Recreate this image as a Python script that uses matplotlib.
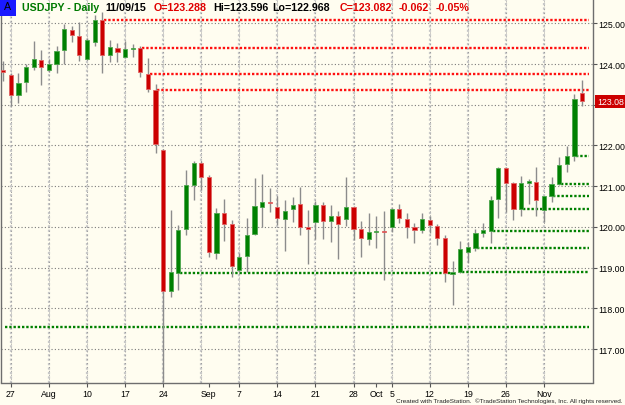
import matplotlib
matplotlib.use('Agg')
import matplotlib.pyplot as plt
import pandas as pd

# USDJPY daily bars, 24 Jul 2015 - 9 Nov 2015
days = pd.bdate_range('2015-07-24', '2015-11-09')
opens = [123.86, 123.74, 123.23, 123.55, 123.92, 124.10, 123.86, 124.00, 124.35, 124.84,
         124.68, 124.13, 124.55, 125.08, 124.21, 124.39, 124.18, 124.36, 124.40, 123.76,
         123.37, 121.89, 118.42, 118.86, 119.94, 121.02, 121.58, 121.23, 119.35, 120.35,
         120.06, 118.94, 119.28, 119.83, 120.50, 120.62, 120.50, 120.19, 120.43, 120.57,
         120.00, 120.11, 120.55, 120.14, 120.27, 120.20, 120.49, 119.94, 119.71, 119.88,
         119.91, 120.00, 120.43, 120.20, 120.01, 119.92, 120.16, 120.02, 119.74, 118.84,
         118.90, 119.39, 119.49, 119.84, 119.90, 120.69, 121.45, 121.08, 120.43, 121.09,
         121.10, 120.41, 120.76, 121.06, 121.54, 121.74, 123.288]
highs = [124.08, 123.78, 123.78, 124.00, 124.56, 124.35, 124.12, 124.43, 124.98, 124.94,
         125.04, 124.65, 125.20, 125.27, 124.60, 124.51, 124.56, 124.49, 124.44, 124.14,
         123.50, 121.92, 120.41, 120.04, 121.40, 121.62, 121.62, 121.27, 120.47, 120.69,
         120.18, 119.35, 120.23, 121.20, 121.31, 120.96, 120.75, 120.65, 120.74, 120.98,
         120.41, 120.64, 120.61, 120.53, 120.38, 121.23, 120.52, 120.15, 120.34, 120.28,
         120.40, 120.47, 120.57, 120.35, 120.10, 120.34, 120.27, 120.08, 119.81, 119.17,
         119.66, 119.63, 119.96, 120.10, 120.77, 121.48, 121.48, 121.10, 121.25, 121.18,
         121.47, 120.77, 121.22, 121.72, 121.99, 123.27, 123.596]
lows = [123.59, 122.98, 123.05, 123.31, 123.86, 123.49, 123.80, 123.78, 124.00, 124.53,
        124.08, 124.10, 124.45, 123.77, 124.04, 124.04, 124.15, 124.17, 123.68, 123.31,
        121.81, 116.18, 118.28, 118.45, 119.79, 120.65, 120.90, 119.25, 119.22, 119.65,
        118.77, 118.90, 118.90, 119.81, 120.00, 120.37, 120.05, 119.40, 120.11, 119.79,
        119.08, 119.71, 119.71, 119.62, 119.22, 120.02, 119.69, 119.25, 119.55, 119.49,
        118.69, 119.88, 120.10, 119.74, 119.61, 119.84, 119.86, 119.55, 118.65, 118.08,
        118.86, 119.12, 119.40, 119.75, 119.61, 120.23, 120.37, 120.16, 120.26, 120.57,
        120.28, 120.12, 120.60, 121.04, 121.35, 121.63, 122.968]
closes = [123.81, 123.23, 123.54, 123.92, 124.12, 123.92, 124.00, 124.33, 124.86, 124.71,
          124.21, 124.60, 125.07, 124.21, 124.42, 124.30, 124.38, 124.39, 123.81, 123.39,
          122.04, 118.42, 118.90, 119.93, 121.02, 121.58, 121.23, 119.39, 120.33, 120.06,
          119.03, 119.27, 119.81, 120.52, 120.62, 120.59, 120.23, 120.40, 120.55, 120.01,
          119.96, 120.55, 120.14, 120.28, 120.06, 120.49, 119.94, 119.74, 119.88, 119.91,
          119.88, 120.45, 120.23, 120.00, 119.93, 120.20, 120.04, 119.72, 118.86, 118.90,
          119.47, 119.51, 119.84, 119.93, 120.67, 121.45, 121.08, 120.45, 121.09, 121.11,
          120.65, 120.75, 121.05, 121.53, 121.74, 123.144, 123.082]

# resistance (red) and support (green) levels: price, start day, end day
red_levels = [125.08, 124.40, 123.76, 123.37]
red_start = ['2015-08-12', '2015-08-19', '2015-08-20', '2015-08-21']
green_levels = [118.86, 118.89, 119.49, 119.89, 120.43, 120.77, 121.06, 121.75, 117.55]
green_start = ['2015-08-26', '2015-10-16', '2015-10-20', '2015-10-22', '2015-10-28',
               '2015-11-03', '2015-11-04', '2015-11-06', '2015-07-24']
green_end = ['2015-10-15', None, None, None, None, None, None, None, None]

tick_dates = ['2015-07-27', '2015-08-03', '2015-08-10', '2015-08-17', '2015-08-24',
              '2015-09-01', '2015-09-07', '2015-09-14', '2015-09-21', '2015-09-28',
              '2015-10-01', '2015-10-05', '2015-10-12', '2015-10-19', '2015-10-26',
              '2015-11-02']
tick_labels = ['27', 'Aug', '10', '17', '24', 'Sep', '7', '14', '21', '28', 'Oct', '5',
               '12', '19', '26', 'Nov']
price_ticks = [117, 118, 119, 120, 121, 122, 123, 124, 125]

RED = '#CC0000'
GREEN = '#008000'
BG = '#FFFDF0'

def pos(d):
    return days.get_loc(pd.Timestamp(d))

plt.rcParams['font.family'] = ['Liberation Sans', 'DejaVu Sans']
fig = plt.figure(figsize=(6.25, 4.06), dpi=100, facecolor=BG)
ax = fig.add_axes([0.0016, 1 - 383.5 / 406, 0.9472, 383.5 / 406])
ax.set_facecolor(BG)

n = len(days)
x = list(range(n))
ax.set_xlim(-0.29, n + 0.44)
ax.set_ylim(116.18, 125.596)

# grid
for p in price_ticks:
    ax.axhline(p, color='#7a7a7a', lw=0.8, ls=(0, (1, 2)), zorder=1)
for i, d in enumerate(days):
    if d.weekday() == 0 and i < n - 1:
        ax.axvline(i, color='#c8c8c8', lw=1.6, ls=(0, (1, 1)), zorder=1)
        ax.axvline(i, color='#9a9a9a', lw=0.7, ls=(0, (1, 3)), zorder=1)

# level lines
for lv, s in zip(red_levels, red_start):
    ax.hlines(lv, pos(s) + 0.25, n - 0.05, color='#FF1010', lw=1.7, ls=(0, (1, 0.8)), zorder=2)
for lv, s, e in zip(green_levels, green_start, green_end):
    end = pos(e) - 0.3 if e else n - 0.05
    ax.hlines(lv, pos(s) + 0.25, end, color=GREEN, lw=1.7, ls=(0, (1, 0.8)), zorder=2)

# candles
colors = [GREEN if c >= o else RED for o, c in zip(opens, closes)]
edges = ['#4CA64C' if c >= o else '#E06464' for o, c in zip(opens, closes)]
ax.vlines(x, lows, highs, color='#8c8c8c', lw=1, zorder=3)
bottoms = [min(o, c) for o, c in zip(opens, closes)]
heights = [max(abs(c - o), 0.03) for o, c in zip(opens, closes)]
ax.bar(x, heights, bottom=bottoms, width=0.55, color=colors, edgecolor=edges,
       linewidth=0.6, zorder=4)

# axes
ax.spines['top'].set_visible(False)
for s in ['right', 'bottom', 'left']:
    ax.spines[s].set_color('#6e6e6e')
    ax.spines[s].set_linewidth(1)
ax.yaxis.tick_right()
ax.set_yticks(price_ticks)
# 123.00 sits under the last-price box
ax.set_yticklabels(['' if p == 123 else '%.2f' % p for p in price_ticks], fontsize=6.3)
ax.tick_params(axis='y', length=3, width=0.8, pad=1, color='#555555')
ax.set_xticks([pos(d) for d in tick_dates])
ax.set_xticklabels(tick_labels, fontsize=6.3)
ax.tick_params(axis='x', length=3, width=0.8, pad=1.5, color='#555555')

# last price box
ax.annotate('%.2f' % closes[-1], xy=(1.0, closes[-1]), xycoords=('axes fraction', 'data'),
            xytext=(3, 0), textcoords='offset points', ha='left', va='center',
            fontsize=6.3, color='white',
            bbox=dict(boxstyle='square,pad=0.25', fc=RED, ec='none'))

# header
def hdr(px, txt, col):
    fig.text(px / 625, 1 - 8 / 406, txt, color=col, fontsize=7.7, fontweight='bold',
             va='center', ha='left')

fig.text(4 / 625, 1 - 7 / 406, 'A', fontsize=7.7, color='black', va='center', ha='left',
         bbox=dict(boxstyle='square,pad=0.45', fc='#1a1aff', ec='none'))
hdr(22, 'USDJPY - Daily', '#007A00')
hdr(105, '11/09/15', 'black')
hdr(154, 'O=%.3f' % opens[-1], '#E00000')
hdr(213, 'Hi=%.3f' % highs[-1], 'black')
hdr(272, 'Lo=%.3f' % lows[-1], 'black')
hdr(340, 'C=%.3f' % closes[-1], '#E00000')
hdr(399, '%.3f' % (closes[-1] - closes[-2]), '#E00000')
hdr(436, '%.2f%%' % ((closes[-1] - closes[-2]) / closes[-2] * 100), '#E00000')

fig.text(623 / 625, 1 - 401 / 406,
         'Created with TradeStation.  \u00a9TradeStation Technologies, Inc. All rights reserved.',
         fontsize=4.6, ha='right', va='center', color='#222222')

fig.savefig('out.png', dpi=100, facecolor=BG)
